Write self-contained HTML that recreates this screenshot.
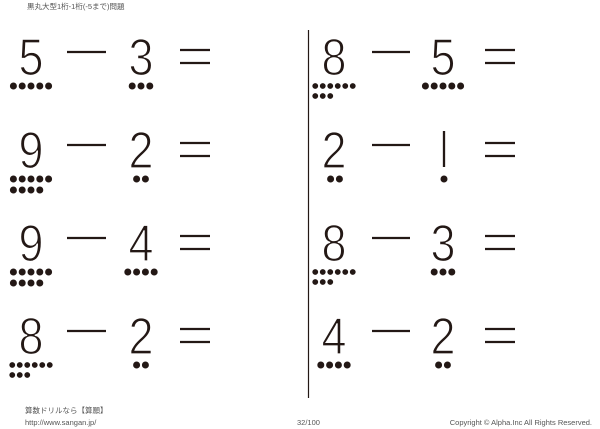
<!DOCTYPE html>
<html><head><meta charset="utf-8"><style>
html,body{margin:0;padding:0;background:#fff;}
svg{display:block}
.d{font-family:"Liberation Sans",sans-serif;font-size:52px;fill:#231815;stroke:#fff;stroke-width:1.3px;text-anchor:middle}
.s{font-family:"Liberation Sans","Noto Sans CJK JP",sans-serif;font-size:7.5px;fill:#555}
</style></head><body>
<svg width="600" height="429" viewBox="0 0 600 429" xmlns="http://www.w3.org/2000/svg">
<text class="s" x="27" y="9">黒丸大型1桁-1桁(-5まで)問題</text>
<line x1="308.5" y1="30" x2="308.5" y2="398" stroke="#231815" stroke-width="1.2"/>
<g stroke="#231815" stroke-width="2.3">
<line x1="67" y1="52" x2="106" y2="52"/><line x1="180" y1="50" x2="210" y2="50"/><line x1="180" y1="63" x2="210" y2="63"/>
<line x1="372" y1="52" x2="410" y2="52"/><line x1="485" y1="50" x2="515" y2="50"/><line x1="485" y1="63" x2="515" y2="63"/>
<line x1="67" y1="145" x2="106" y2="145"/><line x1="180" y1="143" x2="210" y2="143"/><line x1="180" y1="156" x2="210" y2="156"/>
<line x1="372" y1="145" x2="410" y2="145"/><line x1="485" y1="143" x2="515" y2="143"/><line x1="485" y1="156" x2="515" y2="156"/>
<line x1="67" y1="238" x2="106" y2="238"/><line x1="180" y1="236" x2="210" y2="236"/><line x1="180" y1="249" x2="210" y2="249"/>
<line x1="372" y1="238" x2="410" y2="238"/><line x1="485" y1="236" x2="515" y2="236"/><line x1="485" y1="249" x2="515" y2="249"/>
<line x1="67" y1="331" x2="106" y2="331"/><line x1="180" y1="329" x2="210" y2="329"/><line x1="180" y1="342" x2="210" y2="342"/>
<line x1="372" y1="331" x2="410" y2="331"/><line x1="485" y1="329" x2="515" y2="329"/><line x1="485" y1="342" x2="515" y2="342"/>
<line x1="444" y1="131" x2="444" y2="167"/>
</g>
<g>
<text class="d" x="31" y="75" textLength="25" lengthAdjust="spacingAndGlyphs">5</text><text class="d" x="141" y="75" textLength="25" lengthAdjust="spacingAndGlyphs">3</text>
<text class="d" x="334" y="75" textLength="25" lengthAdjust="spacingAndGlyphs">8</text><text class="d" x="443" y="75" textLength="25" lengthAdjust="spacingAndGlyphs">5</text>
<text class="d" x="31" y="168" textLength="25" lengthAdjust="spacingAndGlyphs">9</text><text class="d" x="141" y="168" textLength="25" lengthAdjust="spacingAndGlyphs">2</text>
<text class="d" x="334" y="168" textLength="25" lengthAdjust="spacingAndGlyphs">2</text>
<text class="d" x="31" y="261" textLength="25" lengthAdjust="spacingAndGlyphs">9</text><text class="d" x="141" y="261" textLength="25" lengthAdjust="spacingAndGlyphs">4</text>
<text class="d" x="334" y="261" textLength="25" lengthAdjust="spacingAndGlyphs">8</text><text class="d" x="443" y="261" textLength="25" lengthAdjust="spacingAndGlyphs">3</text>
<text class="d" x="31" y="354" textLength="25" lengthAdjust="spacingAndGlyphs">8</text><text class="d" x="141" y="354" textLength="25" lengthAdjust="spacingAndGlyphs">2</text>
<text class="d" x="334" y="354" textLength="25" lengthAdjust="spacingAndGlyphs">4</text><text class="d" x="443" y="354" textLength="25" lengthAdjust="spacingAndGlyphs">2</text>
</g>
<g fill="#231815">
<g transform="translate(0,86)"><circle cx="13.4" r="3.5"/><circle cx="22.2" r="3.5"/><circle cx="31" r="3.5"/><circle cx="39.8" r="3.5"/><circle cx="48.6" r="3.5"/>
<circle cx="132.2" r="3.5"/><circle cx="141" r="3.5"/><circle cx="149.8" r="3.5"/>
<circle cx="315.25" r="2.9"/><circle cx="322.75" r="2.9"/><circle cx="330.25" r="2.9"/><circle cx="337.75" r="2.9"/><circle cx="345.25" r="2.9"/><circle cx="352.75" r="2.9"/>
<circle cx="315.25" cy="10" r="2.9"/><circle cx="322.75" cy="10" r="2.9"/><circle cx="330.25" cy="10" r="2.9"/>
<circle cx="425.4" r="3.5"/><circle cx="434.2" r="3.5"/><circle cx="443" r="3.5"/><circle cx="451.8" r="3.5"/><circle cx="460.6" r="3.5"/></g>
<g transform="translate(0,179)"><circle cx="13.4" r="3.5"/><circle cx="22.2" r="3.5"/><circle cx="31" r="3.5"/><circle cx="39.8" r="3.5"/><circle cx="48.6" r="3.5"/>
<circle cx="13.4" cy="11" r="3.5"/><circle cx="22.2" cy="11" r="3.5"/><circle cx="31" cy="11" r="3.5"/><circle cx="39.8" cy="11" r="3.5"/>
<circle cx="136.6" r="3.5"/><circle cx="145.4" r="3.5"/>
<circle cx="330.6" r="3.5"/><circle cx="339.4" r="3.5"/>
<circle cx="444" r="3.5"/></g>
<g transform="translate(0,272)"><circle cx="13.4" r="3.5"/><circle cx="22.2" r="3.5"/><circle cx="31" r="3.5"/><circle cx="39.8" r="3.5"/><circle cx="48.6" r="3.5"/>
<circle cx="13.4" cy="11" r="3.5"/><circle cx="22.2" cy="11" r="3.5"/><circle cx="31" cy="11" r="3.5"/><circle cx="39.8" cy="11" r="3.5"/>
<circle cx="127.8" r="3.5"/><circle cx="136.6" r="3.5"/><circle cx="145.4" r="3.5"/><circle cx="154.2" r="3.5"/>
<circle cx="315.25" r="2.9"/><circle cx="322.75" r="2.9"/><circle cx="330.25" r="2.9"/><circle cx="337.75" r="2.9"/><circle cx="345.25" r="2.9"/><circle cx="352.75" r="2.9"/>
<circle cx="315.25" cy="10" r="2.9"/><circle cx="322.75" cy="10" r="2.9"/><circle cx="330.25" cy="10" r="2.9"/>
<circle cx="434.2" r="3.5"/><circle cx="443" r="3.5"/><circle cx="451.8" r="3.5"/></g>
<g transform="translate(0,365)"><circle cx="12.25" r="2.9"/><circle cx="19.75" r="2.9"/><circle cx="27.25" r="2.9"/><circle cx="34.75" r="2.9"/><circle cx="42.25" r="2.9"/><circle cx="49.75" r="2.9"/>
<circle cx="12.25" cy="10" r="2.9"/><circle cx="19.75" cy="10" r="2.9"/><circle cx="27.25" cy="10" r="2.9"/>
<circle cx="136.6" r="3.5"/><circle cx="145.4" r="3.5"/>
<circle cx="320.8" r="3.5"/><circle cx="329.6" r="3.5"/><circle cx="338.4" r="3.5"/><circle cx="347.2" r="3.5"/>
<circle cx="438.6" r="3.5"/><circle cx="447.4" r="3.5"/></g>
</g>
<text class="s" x="25" y="413">算数ドリルなら【算願】</text>
<text class="s" x="25" y="425">http://www.sangan.jp/</text>
<text class="s" x="297" y="425">32/100</text>
<text class="s" x="592" y="425" text-anchor="end">Copyright © Alpha.Inc All Rights Reserved.</text>
</svg>
</body></html>
